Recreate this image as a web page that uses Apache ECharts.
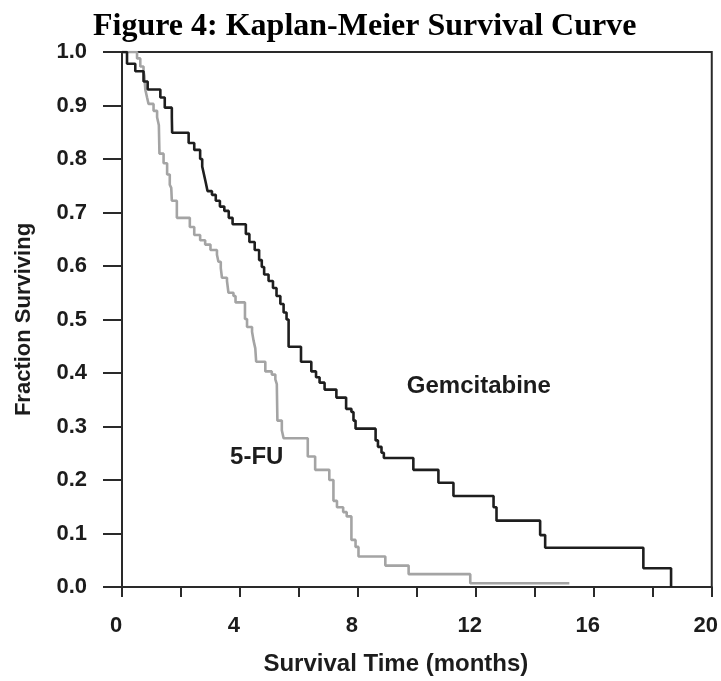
<!DOCTYPE html>
<html>
<head>
<meta charset="utf-8">
<script src="https://cdn.jsdelivr.net/npm/echarts@6/dist/echarts.min.js"></script>
<style>
html,body{margin:0;padding:0;background:#fff;}
#chart{width:721px;height:681px;}
</style>
</head>
<body>
<div id="chart"></div>
<script>
// Gemcitabine: event times (months) and survival fraction after each event
var gemTime = [0, 0.17, 0.45, 0.73, 0.87, 1.30, 1.45, 1.69, 1.70, 2.26, 2.45, 2.65, 2.72, 2.78, 2.84, 2.90, 3.05, 3.18, 3.32, 3.47, 3.62, 3.75, 4.20, 4.32, 4.50, 4.65, 4.74, 4.82, 4.97, 5.12, 5.24, 5.37, 5.48, 5.58, 5.65, 6.07, 6.42, 6.58, 6.70, 6.87, 7.27, 7.60, 7.78, 7.85, 7.92, 8.60, 8.68, 8.80, 8.88, 9.88, 10.73, 11.24, 12.60, 12.70, 14.18, 14.35, 17.68, 18.62];
var gemSurv = [1.0, 0.978, 0.964, 0.945, 0.930, 0.915, 0.896, 0.878, 0.849, 0.830, 0.817, 0.800, 0.786, 0.771, 0.756, 0.740, 0.733, 0.722, 0.711, 0.703, 0.690, 0.678, 0.660, 0.645, 0.630, 0.611, 0.598, 0.584, 0.572, 0.559, 0.544, 0.529, 0.513, 0.500, 0.449, 0.421, 0.403, 0.392, 0.382, 0.369, 0.354, 0.333, 0.327, 0.311, 0.296, 0.274, 0.262, 0.251, 0.241, 0.219, 0.195, 0.170, 0.149, 0.124, 0.097, 0.0735, 0.035, 0.0];

// 5-FU
var fuTime = [0, 0.51, 0.62, 0.73, 0.76, 0.79, 0.85, 0.90, 1.07, 1.19, 1.25, 1.27, 1.41, 1.53, 1.62, 1.67, 1.69, 1.86, 2.30, 2.45, 2.65, 2.82, 3.00, 3.22, 3.27, 3.35, 3.39, 3.56, 3.61, 3.78, 3.85, 4.17, 4.24, 4.41, 4.46, 4.52, 4.55, 4.86, 5.08, 5.20, 5.25, 5.27, 5.42, 5.48, 6.30, 6.55, 7.03, 7.17, 7.29, 7.50, 7.62, 7.78, 7.92, 8.02, 8.93, 9.72, 11.81, 15.17];
var fuSurv = [1.0, 0.988, 0.973, 0.964, 0.955, 0.930, 0.915, 0.903, 0.890, 0.878, 0.863, 0.810, 0.792, 0.771, 0.752, 0.746, 0.722, 0.690, 0.673, 0.658, 0.648, 0.640, 0.630, 0.621, 0.608, 0.596, 0.578, 0.572, 0.550, 0.544, 0.532, 0.501, 0.486, 0.477, 0.461, 0.446, 0.421, 0.403, 0.397, 0.388, 0.379, 0.311, 0.293, 0.278, 0.244, 0.219, 0.200, 0.161, 0.149, 0.140, 0.132, 0.088, 0.075, 0.057, 0.040, 0.024, 0.007, 0.007];

var xTicks = [0, 4, 8, 12, 16, 20];
var seriesNames = ['Gemcitabine', '5-FU'];
var labelCoords = {Gemcitabine: [12.1, 0.375], '5-FU': [4.57, 0.242]};

function pairs(t, s) { return t.map(function (v, i) { return [v, s[i]]; }); }

var sans = 'Liberation Sans, Arial, Helvetica, sans-serif';
var ink = '#1c1c1c';
var axisInk = '#2a2a2a';

var chart = echarts.init(document.getElementById('chart'), null, {renderer: 'canvas'});
chart.setOption({
  backgroundColor: '#ffffff',
  animation: false,
  title: {
    text: 'Figure 4: Kaplan-Meier Survival Curve',
    left: 88,
    top: 6,
    textStyle: {fontFamily: 'Liberation Serif, Times New Roman, serif', fontWeight: 'bold', fontSize: 32, color: '#000'}
  },
  grid: {left: 122, right: 8, top: 52, bottom: 87, show: true, borderColor: axisInk, borderWidth: 2, backgroundColor: 'transparent'},
  xAxis: {
    type: 'value', min: 0, max: 20, interval: 2,
    name: 'Survival Time (months)', nameLocation: 'middle', nameGap: 65,
    nameTextStyle: {fontFamily: sans, fontWeight: 'bold', fontSize: 24, color: ink, padding: [0, 42, 0, 0]},
    axisLine: {show: true, lineStyle: {color: axisInk, width: 2}},
    axisTick: {show: true, inside: false, length: 10, lineStyle: {color: axisInk, width: 2}},
    splitLine: {show: false},
    axisLabel: {
      margin: 28, fontFamily: sans, fontWeight: 'bold', fontSize: 22, color: ink, padding: [0, 12, 0, 0],
      formatter: function (v) { return xTicks.indexOf(v) >= 0 ? String(v) : ''; }
    }
  },
  yAxis: {
    type: 'value', min: 0, max: 1, interval: 0.1,
    name: 'Fraction Surviving', nameLocation: 'middle', nameGap: 87,
    nameTextStyle: {fontFamily: sans, fontWeight: 'bold', fontSize: 22, color: ink},
    axisLine: {show: true, lineStyle: {color: axisInk, width: 2}},
    axisTick: {show: true, inside: false, length: 19, lineStyle: {color: axisInk, width: 2}},
    splitLine: {show: false},
    axisLabel: {
      margin: 35, fontFamily: sans, fontWeight: 'bold', fontSize: 22, color: ink,
      formatter: function (v) { return v.toFixed(1); }
    }
  },
  series: [
    {
      name: seriesNames[0], type: 'line', step: 'end', showSymbol: false, symbol: 'none',
      data: pairs(gemTime, gemSurv),
      lineStyle: {color: '#1e1e1e', width: 2.6}, z: 3,
      markPoint: {
        symbol: 'circle', symbolSize: 0, silent: true,
        data: [{coord: labelCoords.Gemcitabine, value: seriesNames[0]}],
        label: {show: true, position: 'inside', formatter: seriesNames[0], fontFamily: sans, fontWeight: 'bold', fontSize: 24, color: ink}
      }
    },
    {
      name: seriesNames[1], type: 'line', step: 'end', showSymbol: false, symbol: 'none',
      data: pairs(fuTime, fuSurv),
      lineStyle: {color: '#a4a4a4', width: 2.6}, z: 2,
      markPoint: {
        symbol: 'circle', symbolSize: 0, silent: true,
        data: [{coord: labelCoords['5-FU'], value: seriesNames[1]}],
        label: {show: true, position: 'inside', formatter: seriesNames[1], fontFamily: sans, fontWeight: 'bold', fontSize: 24, color: ink}
      }
    }
  ]
});
</script>
</body>
</html>
